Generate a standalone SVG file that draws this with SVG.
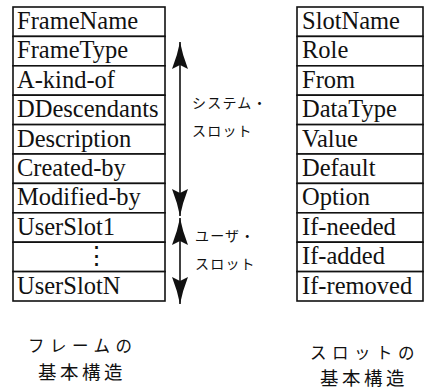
<svg xmlns="http://www.w3.org/2000/svg" width="427" height="392" viewBox="0 0 427 392">
  <style>
    .cell { fill: #fff; stroke: #111; stroke-width: 1.6; }
    .slot { font-family: 'Liberation Serif', 'DejaVu Serif', serif; font-size: 24.5px; fill: #111; }
    .jp { font-family: 'Noto Sans CJK JP', 'Noto Sans CJK SC', sans-serif; fill: #111; }
    .mid { font-size: 14px; letter-spacing: 1.2px; }
    .cap { font-size: 16.5px; letter-spacing: 5.5px; }
    .cap2 { font-size: 18.5px; letter-spacing: 3.5px; }
    .shaft { stroke: #111; stroke-width: 1.6; fill: none; }
  </style>
  <defs>
    <!-- dart-shaped arrowhead, tip at the path end -->
    <marker id="dart" viewBox="0 0 28 16" refX="27" refY="8" markerWidth="28" markerHeight="16" markerUnits="userSpaceOnUse" orient="auto">
      <path d="M27,8 Q14,5.5 0,0 L4,8 L0,16 Q14,10.5 27,8 Z" fill="#111"/>
    </marker>
  </defs>

  <!-- frame structure table -->
  <g id="frame-table">
    <g id="frame-row-0"><rect class="cell" x="13" y="7" width="152" height="29.4"/><text class="slot" x="17" y="29">FrameName</text></g>
    <g id="frame-row-1"><rect class="cell" x="13" y="36.4" width="152" height="29.4"/><text class="slot" x="17" y="58.4">FrameType</text></g>
    <g id="frame-row-2"><rect class="cell" x="13" y="65.8" width="152" height="29.4"/><text class="slot" x="17" y="87.8">A-kind-of</text></g>
    <g id="frame-row-3"><rect class="cell" x="13" y="95.2" width="152" height="29.4"/><text class="slot" x="17" y="117.2">DDescendants</text></g>
    <g id="frame-row-4"><rect class="cell" x="13" y="124.6" width="152" height="29.4"/><text class="slot" x="17" y="146.6">Description</text></g>
    <g id="frame-row-5"><rect class="cell" x="13" y="154" width="152" height="29.4"/><text class="slot" x="17" y="176">Created-by</text></g>
    <g id="frame-row-6"><rect class="cell" x="13" y="183.4" width="152" height="29.4"/><text class="slot" x="17" y="205.4">Modified-by</text></g>
    <g id="frame-row-7"><rect class="cell" x="13" y="212.8" width="152" height="29.4"/><text class="slot" x="17" y="234.8">UserSlot1</text></g>
    <g id="frame-row-8"><rect class="cell" x="13" y="242.2" width="152" height="29.4"/><text class="slot" x="96" y="264.2" text-anchor="middle">⋮</text></g>
    <g id="frame-row-9"><rect class="cell" x="13" y="271.6" width="152" height="29.4"/><text class="slot" x="17" y="293.6">UserSlotN</text></g>
  </g>

  <!-- slot structure table -->
  <g id="slot-table">
    <g id="slot-row-0"><rect class="cell" x="297" y="7" width="126" height="29.4"/><text class="slot" x="302" y="29">SlotName</text></g>
    <g id="slot-row-1"><rect class="cell" x="297" y="36.4" width="126" height="29.4"/><text class="slot" x="302" y="58.4">Role</text></g>
    <g id="slot-row-2"><rect class="cell" x="297" y="65.8" width="126" height="29.4"/><text class="slot" x="302" y="87.8">From</text></g>
    <g id="slot-row-3"><rect class="cell" x="297" y="95.2" width="126" height="29.4"/><text class="slot" x="302" y="117.2">DataType</text></g>
    <g id="slot-row-4"><rect class="cell" x="297" y="124.6" width="126" height="29.4"/><text class="slot" x="302" y="146.6">Value</text></g>
    <g id="slot-row-5"><rect class="cell" x="297" y="154" width="126" height="29.4"/><text class="slot" x="302" y="176">Default</text></g>
    <g id="slot-row-6"><rect class="cell" x="297" y="183.4" width="126" height="29.4"/><text class="slot" x="302" y="205.4">Option</text></g>
    <g id="slot-row-7"><rect class="cell" x="297" y="212.8" width="126" height="29.4"/><text class="slot" x="302" y="234.8">If-needed</text></g>
    <g id="slot-row-8"><rect class="cell" x="297" y="242.2" width="126" height="29.4"/><text class="slot" x="302" y="264.2">If-added</text></g>
    <g id="slot-row-9"><rect class="cell" x="297" y="271.6" width="126" height="29.4"/><text class="slot" x="302" y="293.6">If-removed</text></g>
  </g>

  <!-- range arrows -->
  <g id="connectors">
    <line class="shaft" x1="180" y1="130" x2="180" y2="42" marker-end="url(#dart)"/>
    <line class="shaft" x1="180" y1="130" x2="180" y2="216" marker-end="url(#dart)"/>
    <line class="shaft" x1="180" y1="260" x2="180" y2="218" marker-end="url(#dart)"/>
    <line class="shaft" x1="180" y1="260" x2="180" y2="304" marker-end="url(#dart)"/>
  </g>

  <g id="system-slot-label">
    <text class="jp mid" x="192" y="108">システム・</text>
    <text class="jp mid" x="192" y="136">スロット</text>
  </g>
  <g id="user-slot-label">
    <text class="jp mid" x="195" y="241">ユーザ・</text>
    <text class="jp mid" x="195" y="269">スロット</text>
  </g>

  <g id="frame-caption">
    <text class="jp cap" x="28" y="352">フレームの</text>
    <text class="jp cap2" x="38" y="379">基本構造</text>
  </g>
  <g id="slot-caption">
    <text class="jp cap" x="310" y="359">スロットの</text>
    <text class="jp cap2" x="320" y="385">基本構造</text>
  </g>
</svg>
